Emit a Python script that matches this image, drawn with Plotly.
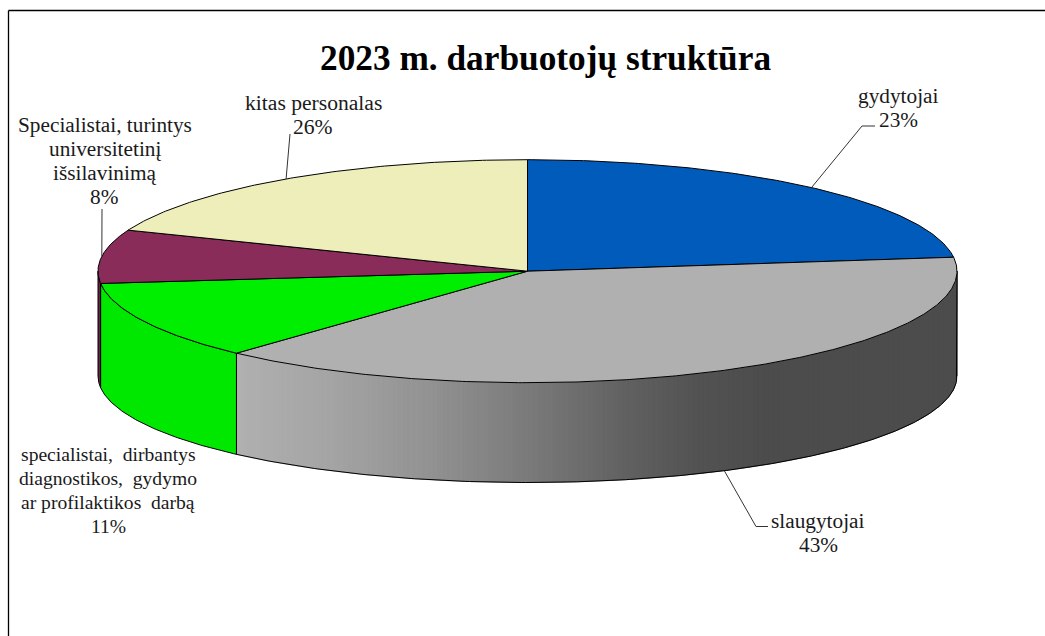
import numpy as np
import plotly.graph_objects as go

title = "2023 m. darbuotojų struktūra"
category_lines = [["gydytojai"], ["slaugytojai"],
                  ["specialistai,\u00a0\u00a0dirbantys", "diagnostikos,\u00a0\u00a0gydymo", "ar profilaktikos\u00a0\u00a0darbą"],
                  ["Specialistai, turintys", "universitetinį", "išsilavinimą"],
                  ["kitas personalas"]]
label_percent = [23, 43, 11, 8, 26]          # as printed in the chart
slice_share = [23.0, 38.85, 11.4, 7.75, 19.0]  # as drawn (angular share of the pie)
top_colors = ["#005bbb", "#b0b0b0", "#00ee00", "#8a2c5a", "#eeeebb"]
side_colors = [None, None, "#00e800", "#6e1f47", None]

# pie geometry (pixels)
W, H = 1045, 636
CX, CY, RX, RY = 527.5, 271.2, 429.5, 111.5
BOTTOM_CY, BOTTOM_RY = 376, 106.5

# grey side gradient stops: (screen x, grey level)
grad_x = [237, 330, 430, 530, 630, 700, 770, 958]
grad_v = [176, 164, 146, 122, 96, 82, 76, 76]


def pt(t):
    r = np.deg2rad(np.asarray(t, dtype=float))
    return CX + RX * np.sin(r), CY - RY * np.cos(r)


def pt_bottom(t):
    r = np.deg2rad(np.asarray(t, dtype=float))
    return CX + RX * np.sin(r), BOTTOM_CY - BOTTOM_RY * np.cos(r)


def arc(a, b):
    return np.linspace(a, b, max(2, int(abs(b - a) * 2) + 2))


fig = go.Figure()
edges = np.concatenate([[0], np.cumsum(slice_share) / sum(slice_share) * 360])


def poly(x, y, fill, line="black", lw=1.0):
    fig.add_trace(go.Scatter(x=list(x), y=list(y), mode="lines", fill="toself",
                             fillcolor=fill, line=dict(color=line, width=lw),
                             hoverinfo="skip", showlegend=False))


def side_poly(a, b, fill, line, lw):
    tt = arc(a, b)
    x0, y0 = pt(tt)
    x1, y1 = pt_bottom(tt[::-1])
    poly(np.r_[x0, x1, x0[0]], np.r_[y0, y1, y0[0]], fill, line, lw)


# side walls, only the front half (90..270 deg)
for i in range(len(slice_share)):
    a, b = max(edges[i], 90), min(edges[i + 1], 270)
    if a >= b:
        continue
    if side_colors[i]:
        side_poly(a, b, side_colors[i], "black", 1.0)
    else:
        # gradient wall: thin strips
        ts = 180 - np.degrees(np.arcsin(np.clip((np.arange(958, 236, -5) - CX) / RX, -1, 1)))
        ts = ts[(ts >= a) & (ts <= b)]
        ts = np.r_[a, ts, b]
        for s, e in zip(ts[:-1], ts[1:]):
            xm = float(pt((s + e) / 2)[0])
            v = int(round(np.interp(xm, grad_x, grad_v)))
            c = f"rgb({v},{v},{v})"
            side_poly(s, e, c, c, 0.8)
        # outline of the gradient wall
        tt = arc(a, b)
        xb, yb = pt_bottom(tt)
        xa, ya = pt(a)
        xe, ye = pt(b)
        fig.add_trace(go.Scatter(x=[float(xa), *xb, float(xe)], y=[float(ya), *yb, float(ye)],
                                 mode="lines", line=dict(color="black", width=1.0),
                                 hoverinfo="skip", showlegend=False))

# top face
for i in range(len(slice_share)):
    tt = arc(edges[i], edges[i + 1])
    x, y = pt(tt)
    poly(np.r_[CX, x, CX], np.r_[CY, y, CY], top_colors[i])

# leader lines start at the mid angle of their slice and end at the label elbow
leader_ends = {0: [(862, 126), (875, 126)], 1: [(756, 526.5), (768, 526.5)],
               3: [(102, 209)], 4: [(290, 134)]}
for i, pts in leader_ends.items():
    mid = (edges[i] + edges[i + 1]) / 2
    sx, sy = pt_bottom(mid) if 90 < mid < 270 else pt(mid)
    fig.add_trace(go.Scatter(x=[float(sx)] + [p[0] for p in pts], y=[float(sy)] + [p[1] for p in pts],
                             mode="lines", line=dict(color="#333333", width=1.0),
                             hoverinfo="skip", showlegend=False))

# label block: horizontal centre, y of the first line, line pitch, font size
label_x = [898, 818, 108, 104.5, 313]
label_y0 = [95.5, 520.5, 454.5, 125, 102.5]
label_size = [21.3, 21.3, 19.6, 21.3, 21.6]
LINE_PITCH = 24.1
annotations = []
for x, y0, lines, p, fs in zip(label_x, label_y0, category_lines, label_percent, label_size):
    for k, txt in enumerate(lines + [f"{p}%"]):
        annotations.append(dict(x=x, y=y0 + k * LINE_PITCH, xref="x", yref="y", text=txt,
                                showarrow=False, xanchor="center", yanchor="middle",
                                font=dict(family="Liberation Serif", size=fs, color="#1a1a1a")))
annotations.append(dict(x=545.5, y=58, xref="x", yref="y", text=f"<b>{title}</b>", showarrow=False,
                        xanchor="center", yanchor="middle",
                        font=dict(family="Liberation Serif", size=35.3, color="black")))

frame = [dict(type="line", xref="x", yref="y", x0=8.5, x1=8.5, y0=10.5, y1=H,
              line=dict(color="black", width=1.3)),
         dict(type="line", xref="x", yref="y", x0=8.5, x1=W, y0=10.5, y1=10.5,
              line=dict(color="black", width=1.3))]

fig.update_layout(width=W, height=H, margin=dict(l=0, r=0, t=0, b=0),
                  paper_bgcolor="white", plot_bgcolor="white", showlegend=False,
                  xaxis=dict(range=[0, W], visible=False, fixedrange=True),
                  yaxis=dict(range=[H, 0], visible=False, fixedrange=True),
                  annotations=annotations, shapes=frame)
fig.write_html("out.html", config=dict(displayModeBar=False),
               post_script="document.body.style.margin='0';document.body.style.overflow='hidden';")
